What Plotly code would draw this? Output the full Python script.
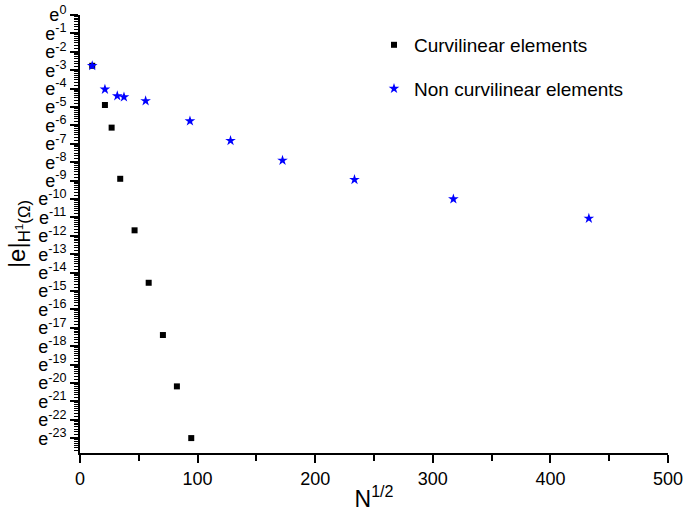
import math
import plotly.graph_objects as go

# Data (x = N^(1/2), y = |e|_H1 error, read as exponents of e)
curv_x = [10.4, 21.2, 26.9, 34.2, 46.4, 58.4, 70.5, 82.4, 94.6]
curv_exp = [-2.76, -4.89, -6.12, -8.90, -11.70, -14.55, -17.39, -20.18, -22.99]
noncurv_x = [10.4, 21.2, 31.7, 37.4, 55.8, 93.5, 128.0, 172.2, 233.4, 317.5, 432.7]
noncurv_exp = [-2.76, -4.04, -4.40, -4.46, -4.67, -5.76, -6.83, -7.90, -8.95, -10.00, -11.05]

curv_y = [math.exp(v) for v in curv_exp]
noncurv_y = [math.exp(v) for v in noncurv_exp]

major_exps = list(range(0, -24, -1))
tickvals = [math.exp(k) for k in major_exps]
ticktext = ["e<sup>%d</sup>" % k for k in major_exps]

minor_vals = []
for k in range(0, -24, -1):
    lo, hi = math.exp(k - 1), math.exp(k)
    for j in range(1, 8):
        minor_vals.append(lo + j * (hi - lo) / 8)

FONT = "Liberation Sans, Arial, Helvetica, sans-serif"

fig = go.Figure()
fig.add_trace(go.Scatter(
    x=curv_x, y=curv_y, mode="markers", name="Curvilinear elements",
    legendgroup="a",
    marker=dict(symbol="square", size=6, color="black"),
))
fig.add_trace(go.Scatter(
    x=noncurv_x, y=noncurv_y, mode="markers", name="Non curvilinear elements",
    legendgroup="b",
    marker=dict(symbol="star", size=8, color="#0000ff", line=dict(width=0)),
))

fig.update_layout(
    width=683, height=517,
    margin=dict(l=80, r=15, t=15, b=64),
    paper_bgcolor="white", plot_bgcolor="white",
    font=dict(family=FONT, size=17, color="black"),
    showlegend=True,
    legend=dict(
        x=0.50, y=0.975, xanchor="left", yanchor="top",
        bgcolor="rgba(0,0,0,0)", borderwidth=0,
        font=dict(size=19, family=FONT),
        traceorder="grouped", tracegroupgap=16,
        itemsizing="trace",
    ),
)

fig.update_xaxes(
    range=[0, 500], tickvals=[0, 100, 200, 300, 400, 500],
    automargin=False, ticklabeloverflow="allow",
    showline=True, linewidth=2, linecolor="black",
    ticks="outside", ticklen=8, tickwidth=1.5, tickcolor="black",
    minor=dict(tickvals=[50, 150, 250, 350, 450], ticks="outside", ticklen=6,
               tickwidth=1.5, tickcolor="black"),
    showgrid=False, zeroline=False,
    tickfont=dict(size=18),
    title=dict(text="N<sup>1/2</sup>", font=dict(size=23), standoff=3),
)

fig.update_yaxes(
    type="log", range=[-23.8 / math.log(10), 0],
    automargin=False, ticklabeloverflow="allow",
    tickmode="array", tickvals=tickvals, ticktext=ticktext,
    showline=True, linewidth=2, linecolor="black",
    ticks="outside", ticklen=8, tickwidth=1.5, tickcolor="black",
    minor=dict(tickvals=minor_vals, ticks="outside", ticklen=4,
               tickwidth=1, tickcolor="black"),
    showgrid=False, zeroline=False,
    tickfont=dict(size=18),
    title=dict(text="|e|<sub>H<sup>1</sup>(Ω)</sub>", font=dict(size=24), standoff=6),
)

fig.write_html("out.html")
